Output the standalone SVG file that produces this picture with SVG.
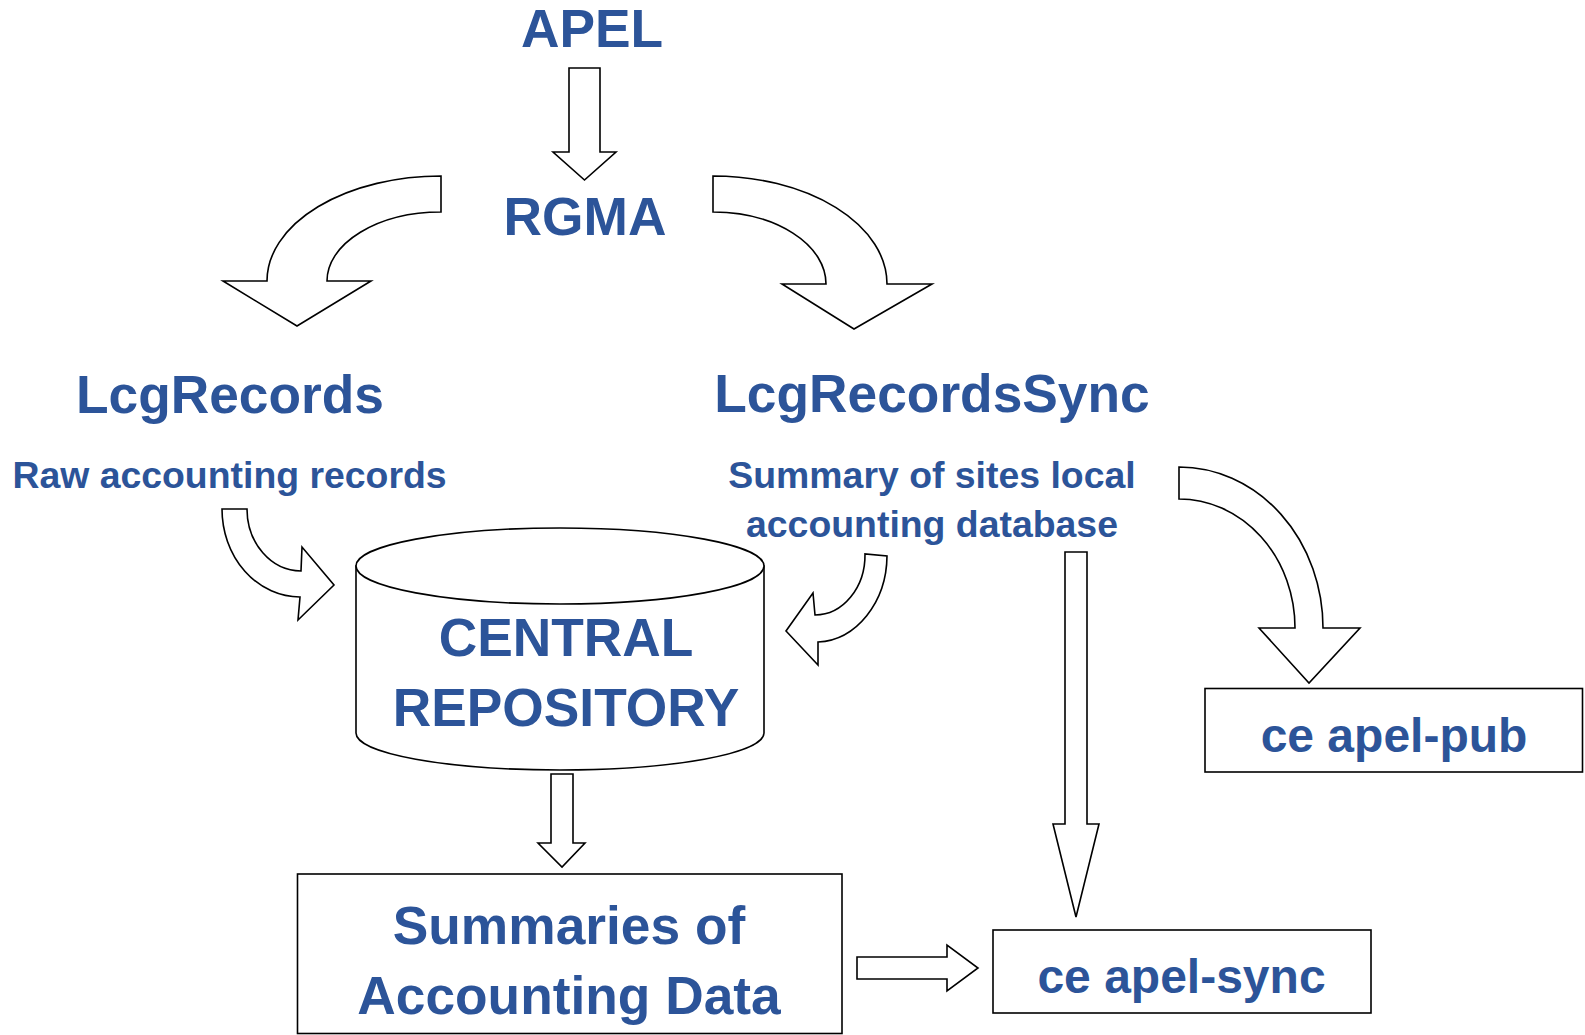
<svg xmlns="http://www.w3.org/2000/svg" width="1585" height="1035" viewBox="0 0 1585 1035">
<style>
.t{font-family:"Liberation Sans",Arial,sans-serif;font-weight:bold;fill:#2C5499;text-anchor:middle}
.big{font-size:53.3px}
.mid{font-size:48px}
.sm{font-size:37.4px}
.sh{fill:#fff;stroke:#000;stroke-width:1.6;stroke-linejoin:miter}
</style>
<rect width="1585" height="1035" fill="#fff"/>
<g id="apel"><text class="t big" x="592" y="47">APEL</text></g>
<g id="rgma"><text class="t big" x="585" y="235">RGMA</text></g>
<g id="lcgrecords">
<text class="t big" x="230" y="413">LcgRecords</text>
<text class="t sm" x="229.5" y="488">Raw accounting records</text>
</g>
<g id="lcgrecordssync">
<text class="t big" x="932" y="412">LcgRecordsSync</text>
<text class="t sm" x="932" y="488">Summary of sites local</text>
<text class="t sm" x="932" y="536.5">accounting database</text>
</g>
<g id="central-repository">
<path class="sh" d="M356,566 L356,733 A204,37 0 0 0 764,733 L764,566 Z"/>
<ellipse class="sh" cx="560" cy="566" rx="204" ry="38"/>
<text class="t big" x="566" y="656">CENTRAL</text>
<text class="t big" x="566" y="726">REPOSITORY</text>
</g>
<g id="summaries">
<rect class="sh" x="297.5" y="874" width="544.5" height="159.5"/>
<text class="t big" x="569" y="944">Summaries of</text>
<text class="t big" x="569" y="1014">Accounting Data</text>
</g>
<g id="ce-apel-sync">
<rect class="sh" x="993" y="930" width="378" height="83"/>
<text class="t mid" x="1181.5" y="993">ce apel-sync</text>
</g>
<g id="ce-apel-pub">
<rect class="sh" x="1205" y="688.5" width="377.5" height="83.5"/>
<text class="t mid" x="1394" y="752">ce apel-pub</text>
</g>
<g id="connectors">
<path class="sh" d="M569,68 L600,68 L600,152 L616,152 L584.5,180 L553,152 L569,152 Z"/>
<path class="sh" d="M441,176 A174,105 0 0 0 267,281 L223,281 L297,326 L371,281 L327,281 A114,69 0 0 1 441,212 Z"/>
<path class="sh" d="M713,176 A174,108 0 0 1 887,284 L932,284 L854,329 L782,284 L826,284 A113,72 0 0 0 713,212 Z"/>
<path class="sh" d="M222,509 A78,88 0 0 0 300,597 L298,620 L334,585 L302,547 L301,571 A54,62 0 0 1 247,509 Z"/>
<path class="sh" d="M887,556 A72,87 0 0 1 818,642 L818,665 L786,631 L813,593 L815,615 A50,60 0 0 0 865,554 Z"/>
<path class="sh" d="M1179,467 A144,161 0 0 1 1323,628 L1360,628 L1309,683 L1259,628 L1295,628 A116,129 0 0 0 1179,499 Z"/>
<path class="sh" d="M1065,552 L1087,552 L1087,824 L1099,824 L1076,917 L1053,824 L1065,824 Z"/>
<path class="sh" d="M551,774 L573,774 L573,843 L585,843 L562,867 L538,843 L551,843 Z"/>
<path class="sh" d="M857,957 L947,957 L947,945 L978,968 L947,991 L947,979 L857,979 Z"/>
</g>
</svg>
